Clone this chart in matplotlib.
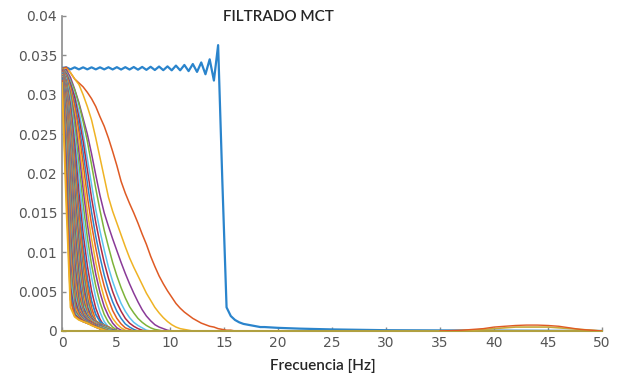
import numpy as np
import matplotlib
matplotlib.use("Agg")
import matplotlib.pyplot as plt

# Eje de frecuencias (resolucion de la FFT: 50/128 Hz)
frecuencia = np.arange(129) * (50 / 128)

# Curva 1: filtro de 15 Hz (azul)
azul_valores = [
    0.03340, 0.03348, 0.03322, 0.03348, 0.03322, 0.03348, 0.03322, 0.03348,
    0.03322, 0.03348, 0.03322, 0.03349, 0.03321, 0.03350, 0.03320, 0.03350,
    0.03320, 0.03352, 0.03318, 0.03353, 0.03316, 0.03355, 0.03314, 0.03358,
    0.03312, 0.03360, 0.03310, 0.03370, 0.03310, 0.03378, 0.03300, 0.03390,
    0.03290, 0.03410, 0.03260, 0.03450, 0.03180, 0.03630, 0.01900, 0.00300,
    0.00190, 0.00140, 0.00110, 0.00090, 0.00080, 0.00070, 0.00060, 0.00050,
    0.00050,
]
azul_cola_hz = [20, 22, 25, 30, 40, 50]
azul_cola = [0.0004, 0.0003, 0.0002, 0.0001, 0.00005, 0.0]

# Curvas filtradas que se distinguen una a una (de la mas ancha a la mas estrecha)
curva_02 = [0.0333, 0.0335, 0.0328, 0.0320, 0.0315, 0.0310, 0.0303, 0.0295, 0.0285, 0.0272,
            0.0260, 0.0245, 0.0228, 0.0210, 0.0190, 0.0175, 0.0162, 0.0150, 0.0137, 0.0123,
            0.0110, 0.0095, 0.0082, 0.0070, 0.0060, 0.0051, 0.0043, 0.0035, 0.0029, 0.0024,
            0.0020, 0.0016, 0.0013, 0.0010, 0.0008, 0.0006, 0.0005, 0.0003, 0.0002, 0.0001,
            0.0001, 0.0]
curva_03 = [0.0332, 0.0333, 0.0328, 0.0320, 0.0313, 0.0300, 0.0285, 0.0268, 0.0245, 0.0220,
            0.0195, 0.0170, 0.0152, 0.0137, 0.0122, 0.0107, 0.0093, 0.0081, 0.0070, 0.0059,
            0.0048, 0.0039, 0.0030, 0.0023, 0.0017, 0.0012, 0.0008, 0.0005, 0.0003, 0.0002,
            0.0001, 0.0]
curva_04 = [0.0330, 0.0332, 0.0322, 0.0307, 0.0290, 0.0270, 0.0250, 0.0225, 0.0198, 0.0172,
            0.0150, 0.0133, 0.0117, 0.0102, 0.0087, 0.0073, 0.0060, 0.0048, 0.0037, 0.0027,
            0.0019, 0.0013, 0.0008, 0.0005, 0.0003, 0.0001, 0.0]
curva_05 = [0.0333, 0.0329, 0.0318, 0.0306, 0.0288, 0.0266, 0.0241, 0.0211, 0.0181, 0.0153,
            0.0128, 0.0107, 0.0087, 0.0070, 0.0055, 0.0042, 0.0031, 0.0023, 0.0016, 0.0011,
            0.0007, 0.0004, 0.0002, 0.0001, 0.0]
curva_06 = [0.0333, 0.0328, 0.0316, 0.0300, 0.0279, 0.0251, 0.0219, 0.0186, 0.0154, 0.0127,
            0.0103, 0.0081, 0.0063, 0.0048, 0.0035, 0.0025, 0.0017, 0.0011, 0.0007, 0.0004,
            0.0001, 0.0]
curva_07 = [0.0333, 0.0327, 0.0314, 0.0297, 0.0271, 0.0241, 0.0205, 0.0169, 0.0138, 0.0111,
            0.0087, 0.0067, 0.0050, 0.0036, 0.0025, 0.0016, 0.0010, 0.0006, 0.0003, 0.0001, 0.0]
curva_08 = [0.0333, 0.0326, 0.0311, 0.0290, 0.0262, 0.0227, 0.0188, 0.0151, 0.0120, 0.0094,
            0.0071, 0.0052, 0.0037, 0.0025, 0.0016, 0.0009, 0.0005, 0.0002, 0.0]
curva_09 = [0.0333, 0.0325, 0.0309, 0.0285, 0.0253, 0.0213, 0.0171, 0.0135, 0.0105, 0.0078,
            0.0057, 0.0040, 0.0026, 0.0016, 0.0009, 0.0004, 0.0002, 0.0]
curva_10 = [0.0333, 0.0324, 0.0306, 0.0278, 0.0241, 0.0196, 0.0152, 0.0117, 0.0087, 0.0062,
            0.0042, 0.0027, 0.0016, 0.0009, 0.0004, 0.0001, 0.0]
curva_11 = [0.0333, 0.0323, 0.0302, 0.0271, 0.0227, 0.0180, 0.0136, 0.0101, 0.0072, 0.0049,
            0.0031, 0.0019, 0.0010, 0.0004, 0.0001, 0.0]
curva_12 = [0.0333, 0.0321, 0.0299, 0.0261, 0.0212, 0.0161, 0.0119, 0.0084, 0.0057, 0.0036,
            0.0021, 0.0011, 0.0005, 0.0001, 0.0]
curva_13 = [0.0333, 0.0320, 0.0293, 0.0250, 0.0196, 0.0143, 0.0102, 0.0068, 0.0042, 0.0024,
            0.0012, 0.0005, 0.0001, 0.0]
curva_14 = [0.0333, 0.0317, 0.0287, 0.0237, 0.0176, 0.0124, 0.0083, 0.0051, 0.0029, 0.0015,
            0.0006, 0.0001, 0.0]

# Banda densa de curvas estrechas junto a 0 Hz
banda_01 = [0.0333, 0.0316, 0.0280, 0.0223, 0.0158, 0.0107, 0.0067, 0.0038, 0.0021, 0.0012, 0.0008, 0.0005, 0.0002, 0.0]
banda_02 = [0.0333, 0.0315, 0.0275, 0.0212, 0.0145, 0.0094, 0.0056, 0.0029, 0.0013, 0.0009, 0.0007, 0.0005, 0.0002, 0.0]
banda_03 = [0.0333, 0.0313, 0.0269, 0.0201, 0.0133, 0.0082, 0.0046, 0.0023, 0.0012, 0.0009, 0.0007, 0.0004, 0.0002, 0.0]
banda_04 = [0.0333, 0.0312, 0.0266, 0.0195, 0.0127, 0.0077, 0.0041, 0.0020, 0.0012, 0.0009, 0.0006, 0.0004, 0.0001, 0.0]
banda_05 = [0.0332, 0.0311, 0.0263, 0.0189, 0.0121, 0.0072, 0.0037, 0.0018, 0.0012, 0.0009, 0.0006, 0.0004, 0.0001, 0.0]
banda_06 = [0.0332, 0.0310, 0.0259, 0.0181, 0.0114, 0.0065, 0.0033, 0.0017, 0.0011, 0.0008, 0.0006, 0.0003, 0.0001, 0.0]
banda_07 = [0.0332, 0.0309, 0.0255, 0.0175, 0.0109, 0.0060, 0.0030, 0.0016, 0.0011, 0.0008, 0.0006, 0.0003, 0.0001, 0.0]
banda_08 = [0.0332, 0.0308, 0.0251, 0.0169, 0.0103, 0.0055, 0.0027, 0.0015, 0.0011, 0.0008, 0.0005, 0.0003, 0.0001, 0.0]
banda_09 = [0.0332, 0.0307, 0.0248, 0.0163, 0.0097, 0.0050, 0.0025, 0.0015, 0.0011, 0.0008, 0.0005, 0.0003, 0.0001, 0.0]
banda_10 = [0.0332, 0.0306, 0.0244, 0.0157, 0.0091, 0.0046, 0.0023, 0.0014, 0.0010, 0.0008, 0.0005, 0.0003, 0.0001, 0.0]
banda_11 = [0.0331, 0.0305, 0.0239, 0.0150, 0.0085, 0.0041, 0.0021, 0.0014, 0.0010, 0.0008, 0.0005, 0.0003, 0.0001, 0.0]
banda_12 = [0.0331, 0.0304, 0.0234, 0.0144, 0.0079, 0.0037, 0.0020, 0.0013, 0.0010, 0.0007, 0.0005, 0.0003, 0.0001, 0.0]
banda_13 = [0.0331, 0.0303, 0.0229, 0.0137, 0.0073, 0.0033, 0.0019, 0.0013, 0.0010, 0.0007, 0.0005, 0.0003, 0.0001, 0.0]
banda_14 = [0.0331, 0.0301, 0.0223, 0.0130, 0.0067, 0.0030, 0.0018, 0.0012, 0.0009, 0.0007, 0.0004, 0.0002, 0.0001, 0.0]
banda_15 = [0.0331, 0.0300, 0.0217, 0.0123, 0.0061, 0.0028, 0.0017, 0.0012, 0.0009, 0.0007, 0.0004, 0.0002, 0.0001, 0.0]
banda_16 = [0.0331, 0.0298, 0.0211, 0.0117, 0.0056, 0.0026, 0.0016, 0.0012, 0.0009, 0.0006, 0.0004, 0.0002, 0.0]
banda_17 = [0.0330, 0.0296, 0.0206, 0.0111, 0.0051, 0.0024, 0.0016, 0.0012, 0.0009, 0.0006, 0.0004, 0.0002, 0.0]
banda_18 = [0.0330, 0.0294, 0.0200, 0.0105, 0.0046, 0.0023, 0.0015, 0.0011, 0.0008, 0.0006, 0.0004, 0.0002, 0.0]
banda_19 = [0.0330, 0.0292, 0.0193, 0.0099, 0.0042, 0.0022, 0.0015, 0.0011, 0.0008, 0.0006, 0.0004, 0.0002, 0.0]
banda_20 = [0.0330, 0.0290, 0.0186, 0.0092, 0.0038, 0.0021, 0.0014, 0.0011, 0.0008, 0.0006, 0.0003, 0.0001, 0.0]
banda_21 = [0.0330, 0.0288, 0.0179, 0.0086, 0.0035, 0.0020, 0.0014, 0.0011, 0.0008, 0.0006, 0.0003, 0.0001, 0.0]
banda_22 = [0.0329, 0.0286, 0.0172, 0.0079, 0.0032, 0.0019, 0.0013, 0.0010, 0.0008, 0.0005, 0.0003, 0.0001, 0.0]
banda_23 = [0.0329, 0.0283, 0.0164, 0.0072, 0.0030, 0.0018, 0.0013, 0.0010, 0.0008, 0.0005, 0.0003, 0.0001, 0.0]
banda_24 = [0.0328, 0.0279, 0.0156, 0.0065, 0.0028, 0.0017, 0.0013, 0.0010, 0.0007, 0.0005, 0.0003, 0.0001, 0.0]
banda_25 = [0.0328, 0.0276, 0.0148, 0.0058, 0.0026, 0.0017, 0.0013, 0.0010, 0.0007, 0.0005, 0.0003, 0.0001, 0.0]
banda_26 = [0.0327, 0.0272, 0.0140, 0.0052, 0.0024, 0.0016, 0.0012, 0.0009, 0.0007, 0.0005, 0.0003, 0.0001, 0.0]
banda_27 = [0.0327, 0.0268, 0.0132, 0.0046, 0.0023, 0.0016, 0.0012, 0.0009, 0.0007, 0.0005, 0.0003, 0.0001, 0.0]
banda_28 = [0.0326, 0.0264, 0.0123, 0.0041, 0.0022, 0.0015, 0.0012, 0.0009, 0.0007, 0.0004, 0.0002, 0.0]
banda_29 = [0.0326, 0.0259, 0.0114, 0.0036, 0.0021, 0.0015, 0.0012, 0.0009, 0.0007, 0.0004, 0.0002, 0.0]
banda_30 = [0.0325, 0.0253, 0.0105, 0.0033, 0.0020, 0.0014, 0.0011, 0.0009, 0.0006, 0.0004, 0.0002, 0.0]
banda_31 = [0.0325, 0.0246, 0.0095, 0.0030, 0.0019, 0.0014, 0.0011, 0.0009, 0.0006, 0.0004, 0.0002, 0.0]
banda_32 = [0.0324, 0.0238, 0.0085, 0.0027, 0.0018, 0.0013, 0.0011, 0.0008, 0.0006, 0.0004, 0.0002, 0.0]
banda_33 = [0.0323, 0.0230, 0.0075, 0.0025, 0.0017, 0.0013, 0.0011, 0.0008, 0.0006, 0.0004, 0.0002, 0.0]
banda_34 = [0.0322, 0.0220, 0.0065, 0.0023, 0.0016, 0.0013, 0.0010, 0.0008, 0.0006, 0.0003, 0.0001, 0.0]
banda_35 = [0.0321, 0.0210, 0.0055, 0.0021, 0.0016, 0.0013, 0.0010, 0.0008, 0.0006, 0.0003, 0.0001, 0.0]
banda_36 = [0.0320, 0.0198, 0.0047, 0.0020, 0.0015, 0.0012, 0.0010, 0.0008, 0.0005, 0.0003, 0.0001, 0.0]
banda_37 = [0.0318, 0.0185, 0.0040, 0.0019, 0.0015, 0.0012, 0.0010, 0.0008, 0.0005, 0.0003, 0.0001, 0.0]
banda_38 = [0.0315, 0.0160, 0.0030, 0.0018, 0.0014, 0.0012, 0.0010, 0.0007, 0.0005, 0.0003, 0.0001, 0.0]

curvas = [curva_02, curva_03, curva_04, curva_05, curva_06, curva_07, curva_08, curva_09,
          curva_10, curva_11, curva_12, curva_13, curva_14]
banda = [banda_01, banda_02, banda_03, banda_04, banda_05, banda_06, banda_07, banda_08,
         banda_09, banda_10, banda_11, banda_12, banda_13, banda_14, banda_15, banda_16,
         banda_17, banda_18, banda_19, banda_20, banda_21, banda_22, banda_23, banda_24,
         banda_25, banda_26, banda_27, banda_28, banda_29, banda_30, banda_31, banda_32,
         banda_33, banda_34, banda_35, banda_36, banda_37, banda_38]

# Residuo en altas frecuencias (35-50 Hz)
residuo_hz = [35, 36, 37, 38, 39, 40, 41, 42, 43, 44, 45, 46, 47, 48, 49, 50]
residuo_naranja = [0.0, 0.00005, 0.0001, 0.0002, 0.0003, 0.0005, 0.0006, 0.0007,
                   0.00075, 0.00075, 0.0007, 0.0006, 0.0004, 0.0002, 0.0001, 0.0]
residuo_amarillo = [0.0, 0.0, 0.00005, 0.0001, 0.0002, 0.0003, 0.0004, 0.0005,
                    0.0005, 0.0005, 0.0005, 0.0004, 0.0003, 0.0002, 0.0001, 0.0]
piso_hz = [0, 15, 35, 50]
piso = [0.0, 0.0, 0.0, 0.0]

# Orden de colores por defecto de MATLAB
colores = ['#2a84cc', '#df5a24', '#efb324', '#8a3a98', '#7db33a', '#5cc3ef', '#b02a44']

fig = plt.figure(figsize=(6.24, 3.76), dpi=100)
ax = fig.add_axes([0.0994, 0.1197, 0.8654, 0.8378])

ax.plot(list(frecuencia[:len(azul_valores)]) + azul_cola_hz, azul_valores + azul_cola,
        color=colores[0], lw=1.6, zorder=3)
for i, valores in enumerate(curvas + banda):
    grosor = 1.1 if i < len(curvas) else 1.3
    ax.plot(frecuencia[:len(valores)], valores, color=colores[(i + 1) % 7], lw=grosor, zorder=3)

ax.plot(piso_hz, piso, color='#b0a040', lw=1.5, zorder=3, clip_on=False)
ax.plot(residuo_hz, residuo_amarillo, color='#c8a838', lw=1.2, zorder=3)
ax.plot(residuo_hz, residuo_naranja, color=colores[1], lw=1.0, zorder=3)

ax.set_xlim(0, 50)
ax.set_ylim(0, 0.04)
ax.set_xticks(range(0, 51, 5))
ax.set_yticks([0, 0.005, 0.01, 0.015, 0.02, 0.025, 0.03, 0.035, 0.04])
ax.set_yticklabels(['0', '0.005', '0.01', '0.015', '0.02', '0.025', '0.03', '0.035', '0.04'])

for lado in ['top', 'right']:
    ax.spines[lado].set_visible(False)
for lado in ['left', 'bottom']:
    ax.spines[lado].set_color('#8c8c8c')
    ax.spines[lado].set_linewidth(1.2)
ax.tick_params(direction='in', length=3, width=1, color='#8c8c8c',
               labelsize=10, labelcolor='#555555')
for etiqueta in ax.get_xticklabels() + ax.get_yticklabels():
    etiqueta.set_fontfamily('DejaVu Sans')

fig.text(0.4455, 0.955, 'FILTRADO MCT', ha='center', va='center',
         fontsize=11, family='Lato', weight='semibold', color='#262626')
fig.text(0.517, 0.027, 'Frecuencia [Hz]', ha='center', va='center',
         fontsize=11, family='Lato', weight='semibold', color='#262626')

fig.savefig('out.png', dpi=100)
